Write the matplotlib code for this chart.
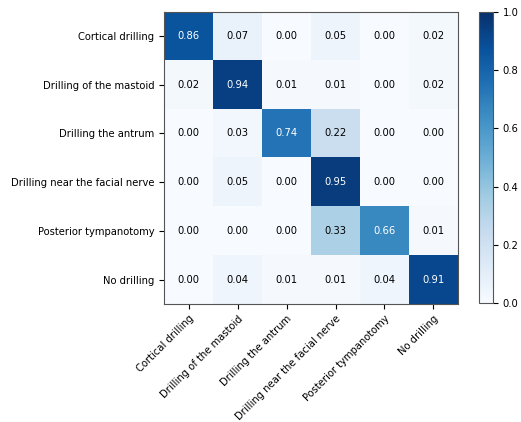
import matplotlib
matplotlib.use("Agg")
import matplotlib.pyplot as plt
import numpy as np

classes = ["Cortical drilling", "Drilling of the mastoid", "Drilling the antrum",
           "Drilling near the facial nerve", "Posterior tympanotomy", "No drilling"]
row_cortical = [0.86, 0.07, 0.00, 0.05, 0.00, 0.02]
row_mastoid = [0.02, 0.94, 0.01, 0.01, 0.00, 0.02]
row_antrum = [0.00, 0.03, 0.74, 0.22, 0.00, 0.00]
row_facial = [0.00, 0.05, 0.00, 0.95, 0.00, 0.00]
row_posterior = [0.00, 0.00, 0.00, 0.33, 0.66, 0.01]
row_none = [0.00, 0.04, 0.01, 0.01, 0.04, 0.91]
cbar_ticks = [0.0, 0.2, 0.4, 0.6, 0.8, 1.0]

cm = np.array([row_cortical, row_mastoid, row_antrum, row_facial, row_posterior, row_none])

fig = plt.figure(figsize=(5.21, 4.22), dpi=100)
ax = fig.add_axes([0.315, 0.280, 0.564, 0.692])
cax = fig.add_axes([0.919, 0.282, 0.027, 0.690])

im = ax.imshow(cm, cmap="Blues", vmin=0, vmax=1, aspect="auto")
cb = fig.colorbar(im, cax=cax, ticks=cbar_ticks)
cb.ax.tick_params(labelsize=7.2)
cb.outline.set_edgecolor("#555555")

fs = 7.2
ax.set_xticks(range(len(classes)))
ax.set_yticks(range(len(classes)))
ax.set_xticklabels(classes, rotation=45, ha="right", rotation_mode="anchor", fontsize=fs)
ax.set_yticklabels(classes, fontsize=fs)
for s in ax.spines.values():
    s.set_edgecolor("#555555")

thresh = 0.5
for i in range(cm.shape[0]):
    for j in range(cm.shape[1]):
        ax.text(j, i, f"{cm[i, j]:.2f}", ha="center", va="center", fontsize=fs,
                color="white" if cm[i, j] > thresh else "black")

fig.savefig("out.png", dpi=100)
